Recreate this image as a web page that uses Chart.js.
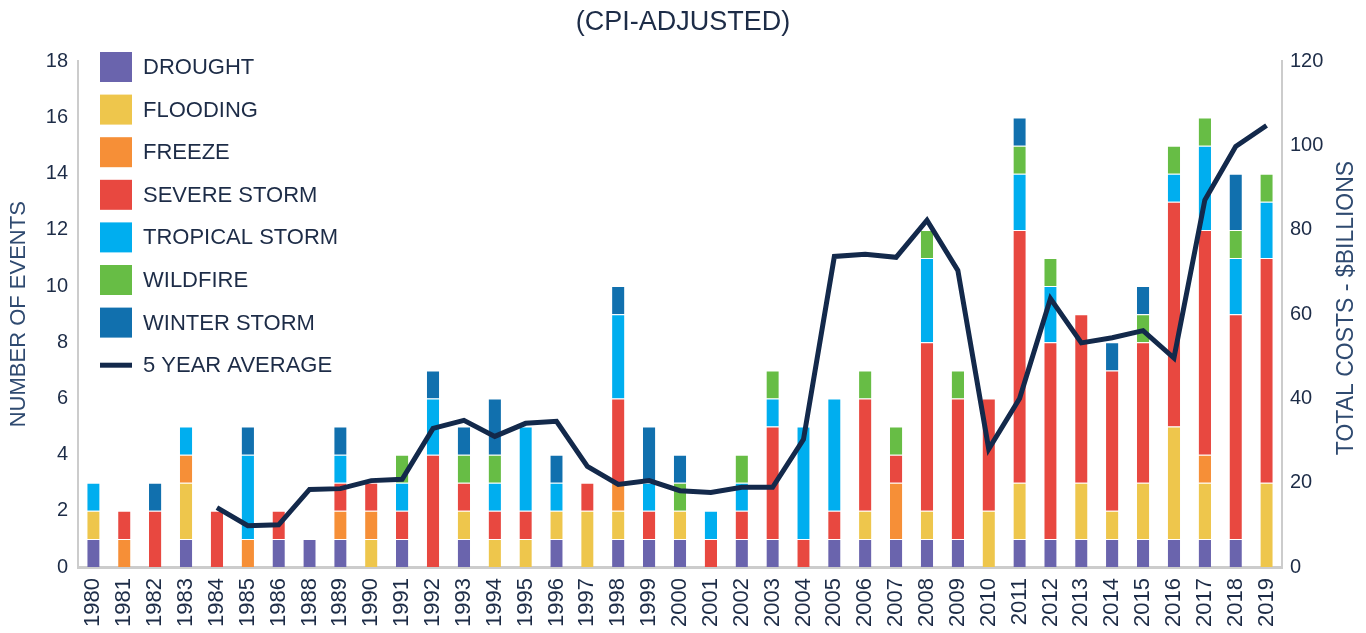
<!DOCTYPE html>
<html>
<head>
<meta charset="utf-8">
<script src="https://cdn.jsdelivr.net/npm/chart.js@4.4.1/dist/chart.umd.min.js"></script>
<style>
  html, body { margin: 0; padding: 0; background: #ffffff; }
  #wrap { position: relative; width: 1366px; height: 633px; }
</style>
</head>
<body>
<div id="wrap"><canvas id="c" width="1366" height="633"></canvas></div>
<script>
const years = ['1980','1981','1982','1983','1984','1985','1986','1988','1989','1990','1991','1992','1993','1994','1995','1996','1997','1998','1999','2000','2001','2002','2003','2004','2005','2006','2007','2008','2009','2010','2011','2012','2013','2014','2015','2016','2017','2018','2019'];
const drought  = [1,0,0,1,0,0,1,1,1,0,1,0,1,0,0,1,0,1,1,1,0,1,1,0,1,1,1,1,1,0,1,1,1,1,1,1,1,1,0];
const flooding = [1,0,0,2,0,0,0,0,0,1,0,0,1,1,1,1,2,1,0,1,0,0,0,0,0,1,0,1,0,2,2,0,2,1,2,4,2,0,3];
const freeze   = [0,1,0,1,0,1,0,0,1,1,0,0,0,0,0,0,0,1,0,0,0,0,0,0,0,0,2,0,0,0,0,0,0,0,0,0,1,0,0];
const severe   = [0,1,2,0,2,0,1,0,1,1,1,4,1,1,1,0,1,3,1,0,1,1,4,1,1,4,1,6,5,4,9,7,6,5,5,8,8,8,8];
const tropical = [1,0,0,1,0,3,0,0,1,0,1,2,0,1,3,1,0,3,1,0,1,1,1,4,4,0,0,3,0,0,2,2,0,0,0,1,3,2,2];
const wildfire = [0,0,0,0,0,0,0,0,0,0,1,0,1,1,0,0,0,0,0,1,0,1,1,0,0,1,1,1,1,0,1,1,0,0,1,1,1,1,1];
const winter   = [0,0,1,0,0,1,0,0,1,0,0,1,1,2,0,1,0,1,2,1,0,0,0,0,0,0,0,0,0,0,1,0,0,1,1,0,0,2,0];
const avg5     = [null,null,null,null,14.1,9.8,10.0,18.4,18.6,20.5,20.8,32.9,34.8,31.0,34.1,34.6,23.9,19.6,20.5,18.1,17.7,18.9,18.9,30.3,73.7,74.2,73.5,82.3,70.4,28.0,40.0,63.7,53.2,54.4,56.1,49.6,87.1,99.8,104.8];
const eventTicks = [0,2,4,6,8,10,12,14,16,18];
const costTicks  = [0,20,40,60,80,100,120];

const FONT = '"Liberation Sans", Arial, sans-serif';
const NAVY = '#13294b';
const TEXT = '#1d2c47';
const AXIS_TITLE = '#2f4a70';

function bar(label, data, color) {
  return {
    type: 'bar', label, data, backgroundColor: color,
    borderColor: 'rgba(255,255,255,0.7)', borderWidth: {top: 1, left: 0, right: 0, bottom: 0},
    borderSkipped: 'start',
    yAxisID: 'y', stack: 'ev', order: 1,
    barPercentage: 0.8, categoryPercentage: 0.5
  };
}

const datasets = [
  bar('DROUGHT', drought, '#6a64ad'),
  bar('FLOODING', flooding, '#eec64c'),
  bar('FREEZE', freeze, '#f68f37'),
  bar('SEVERE STORM', severe, '#e84840'),
  bar('TROPICAL STORM', tropical, '#00aeef'),
  bar('WILDFIRE', wildfire, '#67bd45'),
  bar('WINTER STORM', winter, '#1170ae'),
  {
    type: 'line', label: '5 YEAR AVERAGE', data: avg5, yAxisID: 'y1',
    borderColor: NAVY, borderWidth: 5, pointRadius: 0, tension: 0,
    borderJoinStyle: 'miter', spanGaps: false, order: 0, fill: false
  }
];

const legendPlugin = {
  id: 'insideLegend',
  afterDraw(chart) {
    const ctx = chart.ctx;
    ctx.save();
    chart.data.datasets.forEach((ds, i) => {
      const cy = 67 + i * 42.6;
      if (ds.type === 'line') {
        ctx.strokeStyle = ds.borderColor;
        ctx.lineWidth = 5;
        ctx.beginPath();
        ctx.moveTo(100, cy);
        ctx.lineTo(132, cy);
        ctx.stroke();
      } else {
        ctx.fillStyle = ds.backgroundColor;
        ctx.fillRect(100, cy - 15, 32, 30);
      }
      ctx.fillStyle = TEXT;
      ctx.font = '22px ' + FONT;
      ctx.textBaseline = 'middle';
      ctx.textAlign = 'left';
      ctx.fillText(ds.label, 143, cy + 1);
    });
    // right axis title, reading bottom-to-top
    ctx.translate(1347, 308);
    ctx.rotate(-Math.PI / 2);
    ctx.fillStyle = AXIS_TITLE;
    ctx.font = '23px ' + FONT;
    ctx.textAlign = 'center';
    ctx.textBaseline = 'middle';
    ctx.fillText('TOTAL COSTS - $BILLIONS', 0, 0);
    ctx.restore();
  }
};

new Chart(document.getElementById('c'), {
  data: { labels: years, datasets },
  options: {
    responsive: false,
    animation: false,
    layout: { padding: { left: 0, right: 0, top: 0, bottom: 0 } },
    plugins: {
      legend: { display: false },
      tooltip: { enabled: false },
      title: {
        display: true, text: '(CPI-ADJUSTED)', color: TEXT,
        font: { family: FONT, size: 27, weight: 'normal' },
        padding: { top: 6, bottom: 23 }
      }
    },
    scales: {
      x: {
        type: 'category', offset: true, stacked: true,
        grid: { display: false, drawTicks: false },
        border: { display: true, color: '#cccccc', width: 3 },
        ticks: { color: TEXT, font: { family: FONT, size: 22 }, minRotation: 90, maxRotation: 90, padding: 11, autoSkip: false },
        afterFit(s) { s.height = 66; }
      },
      y: {
        position: 'left', stacked: true, min: 0, max: 18,
        afterBuildTicks(s) { s.ticks = eventTicks.map(v => ({ value: v })); },
        grid: { display: false, drawTicks: false },
        border: { display: true, color: '#cccccc', width: 2 },
        ticks: { color: TEXT, font: { family: FONT, size: 20 }, padding: 10 },
        title: { display: true, text: 'NUMBER OF EVENTS', color: AXIS_TITLE, font: { family: FONT, size: 22 }, padding: { top: 6, bottom: 0 } },
        afterFit(s) { s.width = 78; }
      },
      y1: {
        position: 'right', min: 0, max: 120,
        afterBuildTicks(s) { s.ticks = costTicks.map(v => ({ value: v })); },
        grid: { display: false, drawTicks: false },
        border: { display: true, color: '#cccccc', width: 2 },
        ticks: { color: TEXT, font: { family: FONT, size: 20 }, padding: 8 },
        afterFit(s) { s.width = 84; }
      }
    }
  },
  plugins: [legendPlugin]
});
</script>
</body>
</html>
